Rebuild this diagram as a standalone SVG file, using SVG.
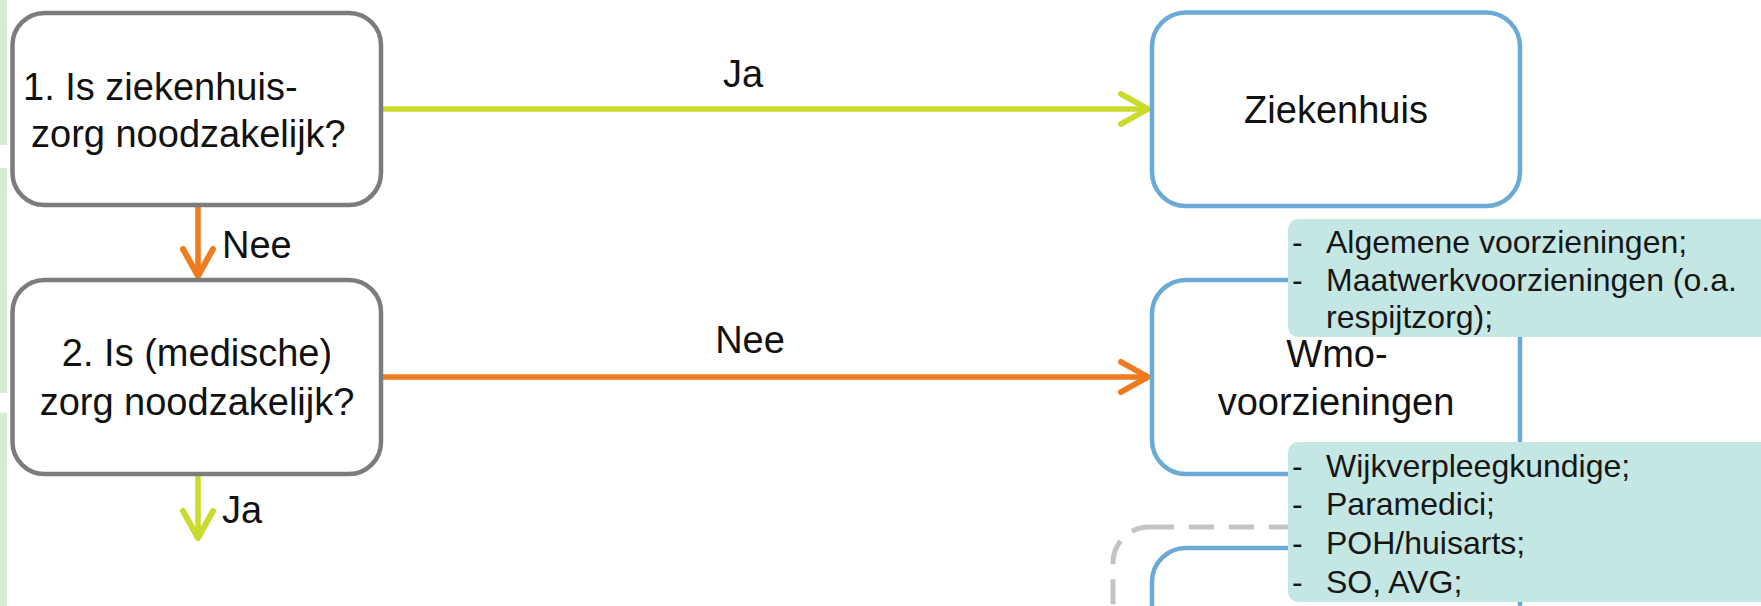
<svg xmlns="http://www.w3.org/2000/svg" width="1761" height="606" viewBox="0 0 1761 606">
<style>
  .q { fill: #ffffff; stroke: #7c7c7c; stroke-width: 4.5; }
  .b { fill: #ffffff; stroke: #6caad6; stroke-width: 4.5; }
  .dash { fill: none; stroke: #c4c4c4; stroke-width: 5; stroke-dasharray: 25 15; }
  .call { fill: #c4e7e3; }
  .t { font-family: "Liberation Sans", Arial, sans-serif; font-size: 38px; fill: #111111; }
  .s { font-family: "Liberation Sans", Arial, sans-serif; font-size: 32px; fill: #161616; }
  .m { text-anchor: middle; }
  .strip { fill: #d6ebd2; }
  .lg { stroke: #c9db2c; stroke-width: 5.5; fill: none; }
  .lo { stroke: #f07a1e; stroke-width: 5.5; fill: none; }
</style>
<defs>
  <marker id="ag" markerUnits="userSpaceOnUse" viewBox="-34 -20 40 40" refX="0" refY="0" markerWidth="40" markerHeight="40" orient="auto" overflow="visible">
    <path d="M-27,-15 L0,0 L-27,15" fill="none" stroke="#c9db2c" stroke-width="6" stroke-linecap="round" stroke-linejoin="round"/>
  </marker>
  <marker id="ao" markerUnits="userSpaceOnUse" viewBox="-34 -20 40 40" refX="0" refY="0" markerWidth="40" markerHeight="40" orient="auto" overflow="visible">
    <path d="M-27,-15 L0,0 L-27,15" fill="none" stroke="#f07a1e" stroke-width="6" stroke-linecap="round" stroke-linejoin="round"/>
  </marker>
</defs>
<rect width="1761" height="606" fill="#ffffff"/>
<g id="strip">
  <rect class="strip" x="0" y="0" width="7" height="145"/>
  <rect class="strip" x="0" y="168" width="7" height="225"/>
  <rect class="strip" x="0" y="413" width="7" height="193"/>
</g>
<g id="connectors">
  <line class="lg" x1="381" y1="109" x2="1148" y2="109" marker-end="url(#ag)"/>
  <line class="lo" x1="381" y1="377" x2="1148" y2="377" marker-end="url(#ao)"/>
  <line class="lo" x1="198" y1="207" x2="198" y2="276" marker-end="url(#ao)"/>
  <line class="lg" x1="198" y1="476" x2="198" y2="538" marker-end="url(#ag)"/>
  <text class="t m" x="743" y="87">Ja</text>
  <text class="t m" x="750" y="353">Nee</text>
  <text class="t" x="222" y="258">Nee</text>
  <text class="t" x="222" y="523">Ja</text>
</g>
<g id="q1">
  <rect class="q" x="12.5" y="13" width="368.5" height="192" rx="32"/>
  <text class="t" x="23" y="100">1. Is ziekenhuis-</text>
  <text class="t" x="31" y="147">zorg noodzakelijk?</text>
</g>
<g id="q2">
  <rect class="q" x="12.5" y="280" width="368.5" height="194" rx="32"/>
  <text class="t m" x="197" y="366">2. Is (medische)</text>
  <text class="t m" x="197" y="415">zorg noodzakelijk?</text>
</g>
<g id="ziekenhuis">
  <rect class="b" x="1152" y="12.5" width="368" height="193.5" rx="34"/>
  <text class="t m" x="1336" y="123">Ziekenhuis</text>
</g>
<g id="dashed">
  <rect class="dash" x="1113" y="527" width="700" height="200" rx="36"/>
</g>
<g id="box3">
  <rect class="b" x="1152" y="548" width="368" height="200" rx="34"/>
</g>
<g id="wmo">
  <rect class="b" x="1152" y="280" width="368" height="194" rx="34"/>
  <text class="t m" x="1337" y="367">Wmo-</text>
  <text class="t m" x="1336" y="415">voorzieningen</text>
</g>
<g id="callout1">
  <rect class="call" x="1288" y="219" width="500" height="118" rx="10"/>
  <text class="s" x="1292" y="253">-</text>
  <text class="s" x="1326" y="253">Algemene voorzieningen;</text>
  <text class="s" x="1292" y="291">-</text>
  <text class="s" x="1326" y="291">Maatwerkvoorzieningen (o.a.</text>
  <text class="s" x="1326" y="328">respijtzorg);</text>
</g>
<g id="callout2">
  <rect class="call" x="1288" y="442" width="500" height="160" rx="10"/>
  <text class="s" x="1292" y="477">-</text>
  <text class="s" x="1326" y="477">Wijkverpleegkundige;</text>
  <text class="s" x="1292" y="515">-</text>
  <text class="s" x="1326" y="515">Paramedici;</text>
  <text class="s" x="1292" y="554">-</text>
  <text class="s" x="1326" y="554">POH/huisarts;</text>
  <text class="s" x="1292" y="593">-</text>
  <text class="s" x="1326" y="593">SO, AVG;</text>
</g>
</svg>
